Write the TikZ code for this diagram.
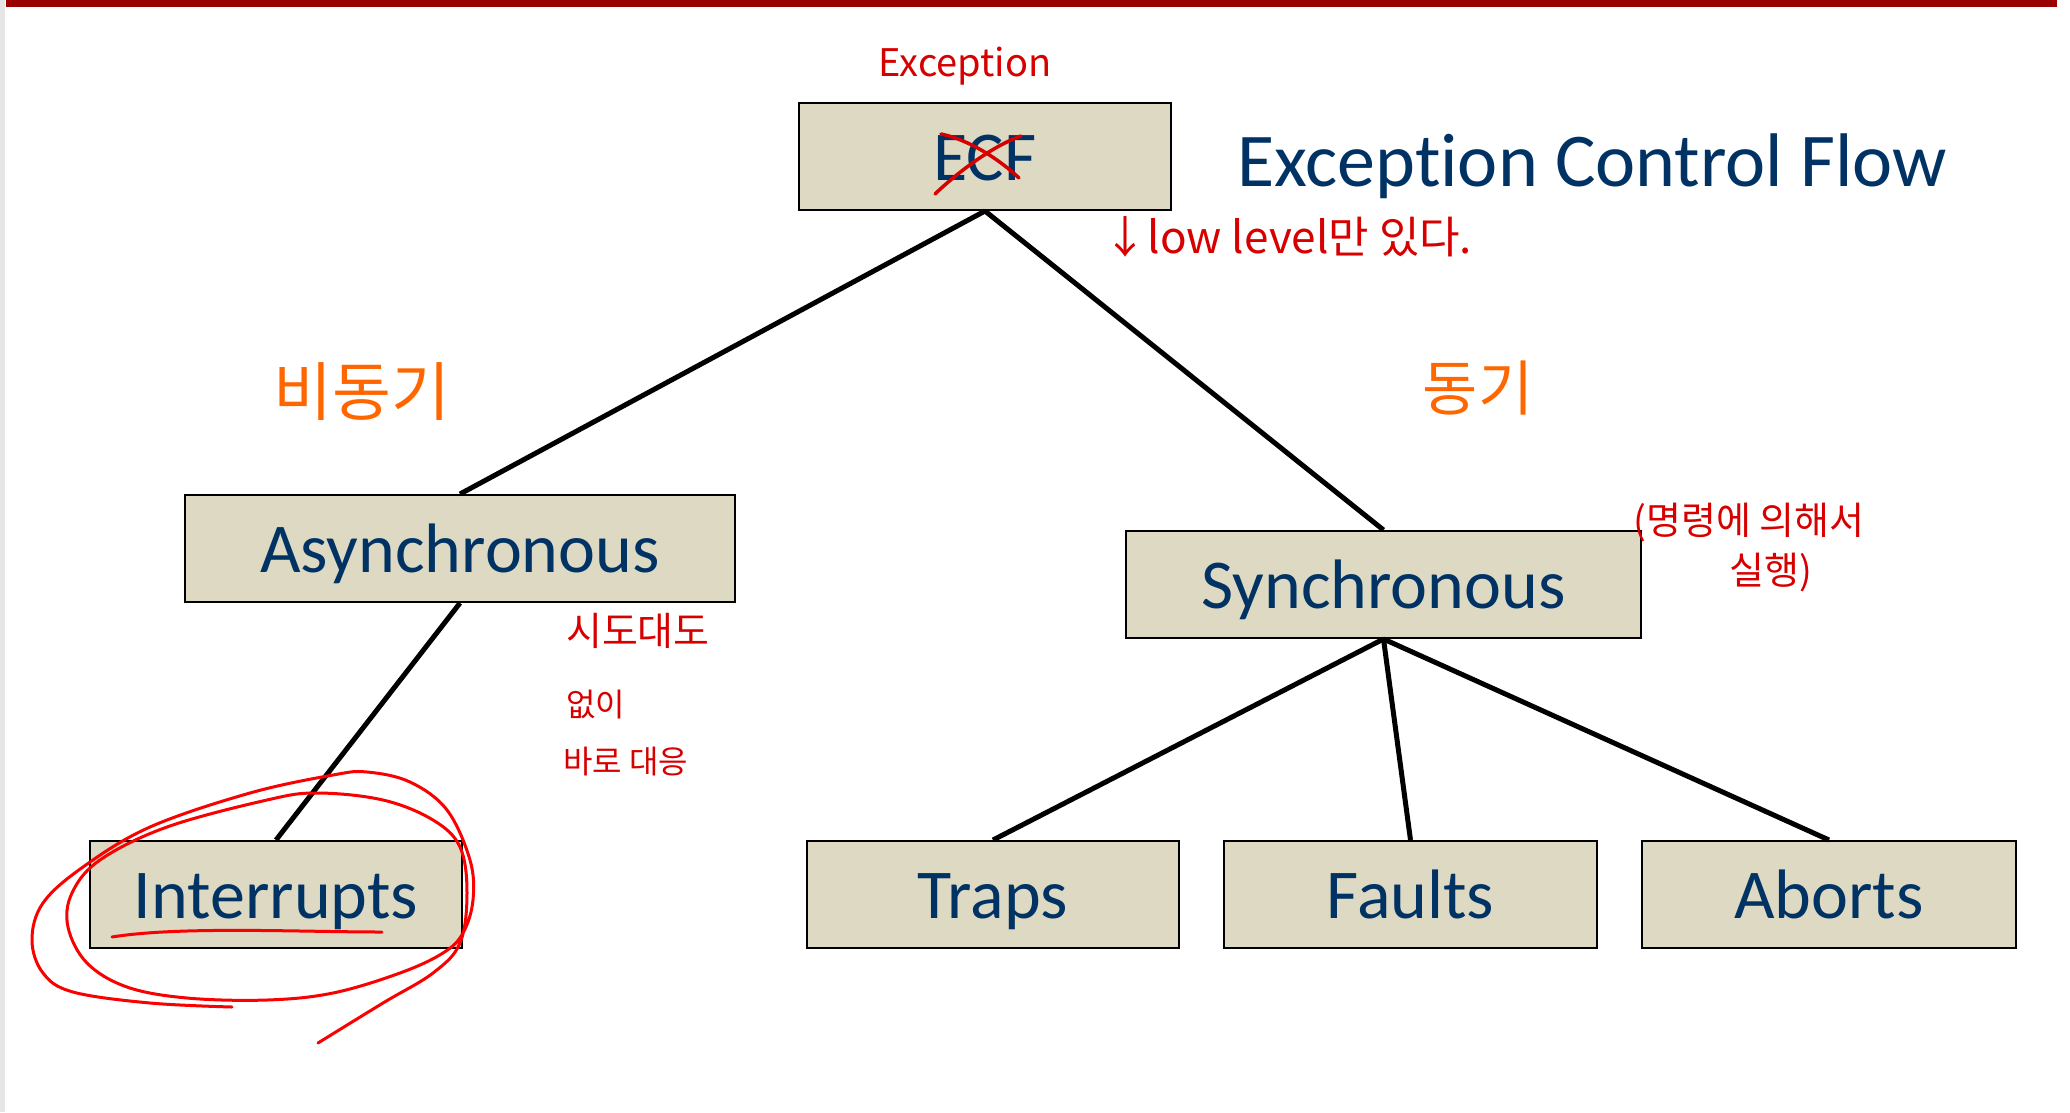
\documentclass[tikz,border=0pt]{standalone}
\usepackage{fontspec}
\setmainfont{Carlito}[Ligatures={NoCommon}]
\newfontfamily\hangul{Noto Sans CJK KR}
\usetikzlibrary{positioning}
\definecolor{boxfill}{RGB}{221,217,195}
\definecolor{navy}{RGB}{0,50,100}
\definecolor{barred}{RGB}{153,0,0}
\definecolor{penred}{RGB}{215,0,0}
\definecolor{ringred}{RGB}{250,0,0}
\definecolor{penorange}{RGB}{255,102,0}
\tikzset{
	block/.style={draw=black, line width=2pt, fill=boxfill, text=navy, inner sep=0pt,
		minimum height=107pt, text height=60pt, text depth=13pt,
		font=\fontsize{70}{84}\selectfont},
	link/.style={line width=5pt},
	memo/.style={text=penred, inner sep=0pt},
	sketch/.style={text=penorange, inner sep=0pt, font=\hangul\fontsize{64}{76}\selectfont},
	pen/.style={draw=penred, line width=3.5pt, line cap=round},
	ring/.style={draw=ringred, line width=3pt, line cap=round},
}

\begin{document}
\begin{tikzpicture}[x=1pt, y=-1pt]
				\useasboundingbox (0,0) rectangle (2070,1112);
				% slide frame
				\fill[gray!20] (0,0) rectangle (5,1112);
				\fill[barred] (6,0) rectangle (2057,7);

				% Boxes
				\node[block, minimum width=372pt] (ecf) at (985,156.5) {ECF};
				\node[block, minimum width=550pt] (async) at (460,548.5) {Asynchronous};
				\node[block, minimum width=515pt] (sync) at (1383.5,584.5) {Synchronous};
				\node[block, minimum width=372pt] (intr) at (276,894.5) {Interrupts};
				\node[block, minimum width=372pt] (traps) at (993,894.5) {Traps};
				\node[block, minimum width=373pt] (faults) at (1410.5,894.5) {Faults};
				\node[block, minimum width=374pt] (aborts) at (1829,894.5) {Aborts};

				% Title
				\node[anchor=base west, inner sep=0pt, text=navy, font=\fontsize{76}{90}\selectfont]
					(title) at (1237,186) {Exception Control Flow};

				% Links
				\draw[link] (ecf.south) -- (async.north);
				\draw[link] (ecf.south) -- (sync.north);
				\draw[link] (async.south) -- (intr.north);
				\foreach \leaf in {traps, faults, aborts} {
					\draw[link] (sync.south) -- (\leaf.north);
				}

				% Handwritten notes
				\node[memo, font=\hangul\fontsize{38}{46}\selectfont] (exc) at (965,66) {Exception};
				\draw[pen] (935,194) .. controls (960,170) and (995,145) .. (1021,136);
				\draw[pen] (941,134) .. controls (970,140) and (1000,160) .. (1019,178);
				\node[memo, font=\hangul\fontsize{44}{52}\selectfont] (low) at (1288,237) {↓low level만 있다.};
				\node[sketch] (bidong) at (362,392) {비동기};
				\node[sketch, font=\hangul\fontsize{60}{72}\selectfont] (dong) at (1478,388) {동기};
				\node[memo, font=\hangul\fontsize{38}{46}\selectfont] (cmda) at (1749,523) {(명령에 의해서};
				\node[memo, font=\hangul\fontsize{38}{46}\selectfont] (cmdb) at (1771,573) {실행)};
				\node[memo, anchor=west, font=\hangul\fontsize{39}{46}\selectfont] (irqa) at (566,631) {시도대도};
				\node[memo, anchor=west, font=\hangul\fontsize{32}{38}\selectfont] (irqb) at (566,705) {없이};
				\node[memo, anchor=west, font=\hangul\fontsize{32}{38}\selectfont] (irqc) at (563,762) {바로 대응};

				% circle round Interrupts
				\draw[ring] (112,937) .. controls (180,926) and (300,932) .. (382,932);
				\draw[ring] plot[smooth, tension=0.6] coordinates {
					(232,1007) (150,1003) (73,992) (43,973) (32,940) (43,903) (83,867)
					(150,827) (250,793) (333,775) (367,772) (410,782) (447,810) (470,860)
					(473,900) (463,933) (443,953) (400,973) (333,993) (267,1000) (187,998)
					(127,987) (87,963) (68,927) (72,893) (100,860) (167,827) (267,800)
					(317,793) (383,800) (433,820) (460,847) (467,893) (460,943) (433,973)
					(383,1003) (318,1043)};

\end{tikzpicture}
\end{document}
